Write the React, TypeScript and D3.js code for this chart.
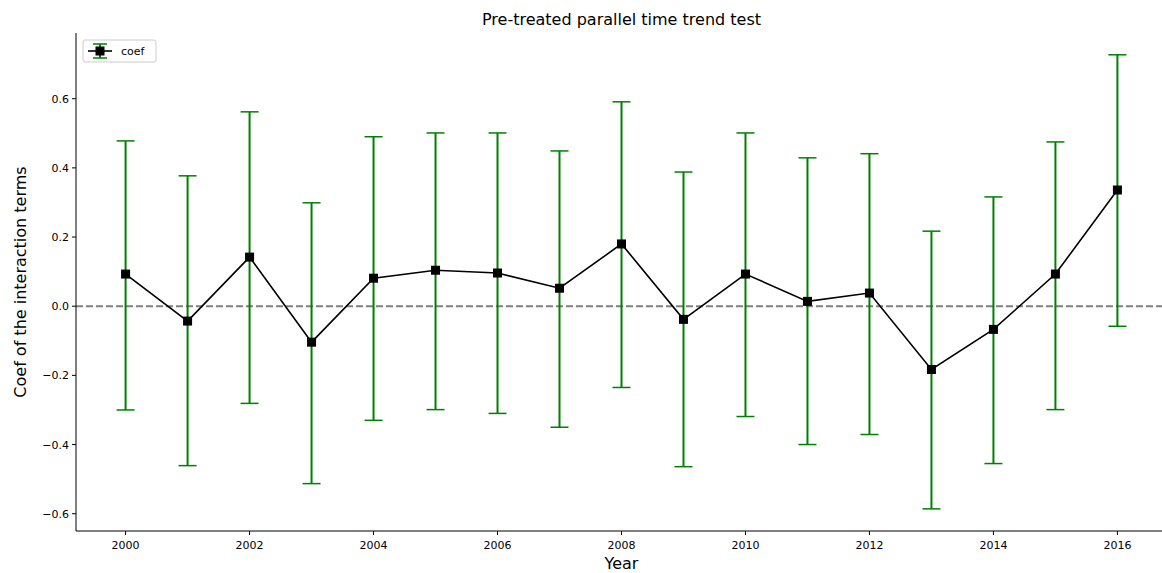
import React from "react";
import * as d3 from "d3";

const years = [2000, 2001, 2002, 2003, 2004, 2005, 2006, 2007, 2008, 2009, 2010, 2011, 2012, 2013, 2014, 2015, 2016];
const coef = [0.093, -0.043, 0.142, -0.104, 0.081, 0.104, 0.096, 0.052, 0.18, -0.038, 0.093, 0.014, 0.038, -0.183, -0.067, 0.093, 0.336];
const upper = [0.478, 0.377, 0.562, 0.299, 0.49, 0.501, 0.501, 0.449, 0.591, 0.388, 0.501, 0.429, 0.441, 0.217, 0.316, 0.475, 0.727];
const lower = [-0.3, -0.461, -0.281, -0.513, -0.33, -0.299, -0.31, -0.35, -0.235, -0.464, -0.319, -0.4, -0.371, -0.586, -0.455, -0.299, -0.058];
const xTicks = [2000, 2002, 2004, 2006, 2008, 2010, 2012, 2014, 2016];
const yTicks = [-0.6, -0.4, -0.2, 0.0, 0.2, 0.4, 0.6];

const W = 1162, H = 573;
const L = 76, R = 1167, T = 33, B = 531;
const FONT = "DejaVu Sans, sans-serif";

export default function App() {
  const x = d3.scaleLinear().domain([1999.2, 2016.8]).range([L, R]);
  const y = d3.scaleLinear().domain([-0.65, 0.79]).range([B, T]);
  const line = d3.line<number>().x((_, i) => x(years[i])).y((d) => y(d));
  const cap = 9;
  const ms = 9;
  return (
    <svg width={W} height={H} style={{ position: "absolute", left: 0, top: 0, background: "#fff" }}>
      <rect x={0} y={0} width={W} height={H} fill="#fff" />
      <text x={(L + R) / 2} y={25} textAnchor="middle" fontFamily={FONT} fontSize={16} fill="#000">Pre-treated parallel time trend test</text>
      {/* zero line */}
      <line x1={L} x2={R} y1={y(0)} y2={y(0)} stroke="#808080" strokeWidth={2} strokeDasharray="7,3" />
      {/* error bars */}
      {years.map((yr, i) => (
        <g key={yr} stroke="green">
          <line x1={x(yr)} x2={x(yr)} y1={y(lower[i])} y2={y(upper[i])} strokeWidth={2} />
          <line x1={x(yr) - cap} x2={x(yr) + cap} y1={y(upper[i])} y2={y(upper[i])} strokeWidth={1.5} />
          <line x1={x(yr) - cap} x2={x(yr) + cap} y1={y(lower[i])} y2={y(lower[i])} strokeWidth={1.5} />
        </g>
      ))}
      <path d={line(coef) || ""} fill="none" stroke="#000" strokeWidth={1.6} />
      {coef.map((c, i) => (
        <rect key={i} x={x(years[i]) - ms / 2} y={y(c) - ms / 2} width={ms} height={ms} fill="#000" />
      ))}
      {/* spines */}
      <line x1={L} x2={L} y1={T} y2={B} stroke="#000" strokeWidth={1} />
      <line x1={L} x2={R} y1={B} y2={B} stroke="#000" strokeWidth={1} />
      {xTicks.map((t) => (
        <g key={t}>
          <line x1={x(t)} x2={x(t)} y1={B} y2={B + 4} stroke="#000" />
          <text x={x(t)} y={B + 18} textAnchor="middle" fontFamily={FONT} fontSize={11} fill="#000">{t}</text>
        </g>
      ))}
      {yTicks.map((t) => (
        <g key={t}>
          <line x1={L - 4} x2={L} y1={y(t)} y2={y(t)} stroke="#000" />
          <text x={L - 7} y={y(t) + 4} textAnchor="end" fontFamily={FONT} fontSize={11} fill="#000">{t < 0 ? "\u2212" + Math.abs(t).toFixed(1) : t.toFixed(1)}</text>
        </g>
      ))}
      <text x={(L + R) / 2} y={569} textAnchor="middle" fontFamily={FONT} fontSize={16} fill="#000">Year</text>
      <text transform={`translate(26, ${(T + B) / 2}) rotate(-90)`} textAnchor="middle" fontFamily={FONT} fontSize={16} fill="#000">Coef of the interaction terms</text>
      {/* legend */}
      <g>
        <rect x={83} y={40} width={73} height={22} rx={2} fill="#fff" stroke="#ccc" strokeWidth={1} />
        <line x1={88} x2={112} y1={51} y2={51} stroke="#000" strokeWidth={1.6} />
        <line x1={100} x2={100} y1={44} y2={58} stroke="green" strokeWidth={2} />
        <line x1={93} x2={107} y1={44} y2={44} stroke="green" strokeWidth={1.5} />
        <line x1={93} x2={107} y1={58} y2={58} stroke="green" strokeWidth={1.5} />
        <rect x={100 - ms / 2} y={51 - ms / 2} width={ms} height={ms} fill="#000" />
        <text x={121} y={55} fontFamily={FONT} fontSize={11} fill="#000">coef</text>
      </g>
    </svg>
  );
}
